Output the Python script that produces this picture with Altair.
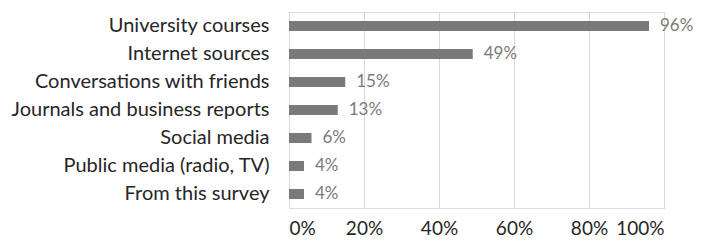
import altair as alt
import pandas as pd

categories = [
    "University courses",
    "Internet sources",
    "Conversations with friends",
    "Journals and business reports",
    "Social media",
    "Public media (radio, TV)",
    "From this survey",
]
values = [0.96, 0.49, 0.15, 0.13, 0.06, 0.04, 0.04]
labels = ["96%", "49%", "15%", "13%", "6%", "4%", "4%"]

df = pd.DataFrame({"cat": categories, "val": values, "lab": labels})

FONT = "Lato"

y = alt.Y(
    "cat:N",
    sort=categories,
    title=None,
    scale=alt.Scale(paddingInner=0.64, paddingOuter=0.32),
    axis=alt.Axis(
        domain=False, ticks=False, grid=False, labelPadding=20,
        labelFont=FONT, labelFontSize=20, labelColor="#262626", labelLimit=400,
    ),
)
x = alt.X(
    "val:Q",
    title=None,
    scale=alt.Scale(domain=[0, 1]),
    axis=alt.Axis(
        format=".0%", values=[0, 0.2, 0.4, 0.6, 0.8, 1.0], domain=False, ticks=False,
        grid=True, gridColor="#d9d9d9", gridWidth=1, labelPadding=11,
        labelFont=FONT, labelFontSize=19, labelColor="#262626",
    ),
)

bars = alt.Chart(df).mark_bar(color="#7a7a7a").encode(x=x, y=y)
text = alt.Chart(df).mark_text(
    align="left", baseline="middle", dx=11, font=FONT, fontSize=17, color="#7a7a7a"
).encode(x="val:Q", y=alt.Y("cat:N", sort=categories), text="lab:N")

chart = (bars + text).properties(
    width=375, height=196,
    autosize=alt.AutoSizeParams(type="none"),
    padding={"left": 281, "top": 4, "right": 30, "bottom": 30},
).configure_view(stroke=None).configure(background="white")

chart.save("out.html", embed_options={"renderer": "svg", "actions": False})
